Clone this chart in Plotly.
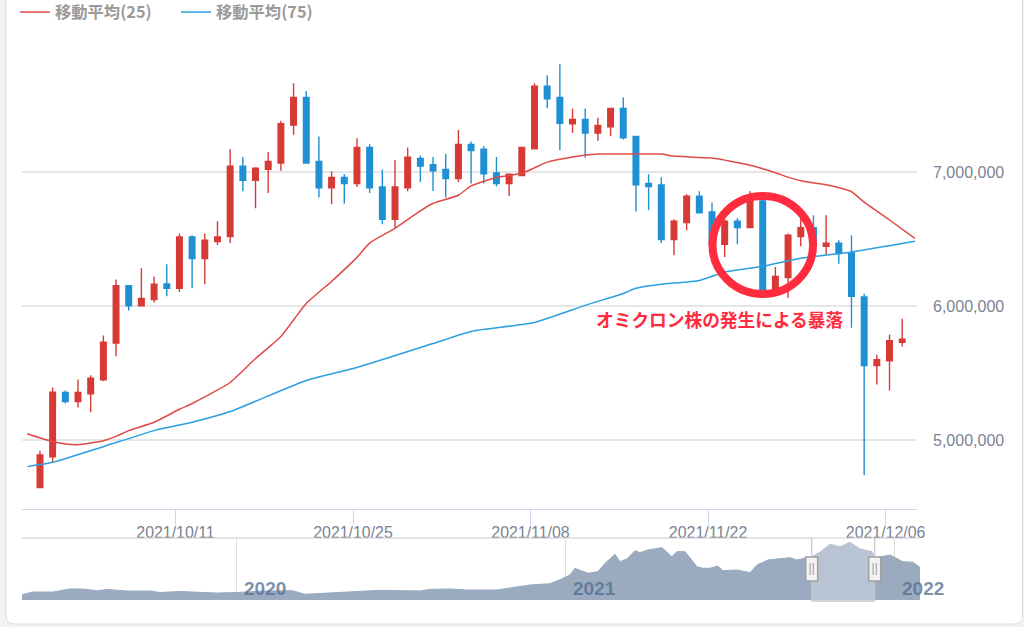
import numpy as np
import pandas as pd
import plotly.graph_objects as go

# daily candles, in thousand yen
dates = pd.date_range("2021-09-30", periods=69, freq="D")
opens = [4645, 4876, 5355, 5288, 5345, 5450, 5724, 6153, 6002, 6050, 6165, 6133, 6516, 6355, 6482, 6519, 7045,
         6940, 7022, 7069, 7351, 7558, 7080, 6883, 6960, 6915, 7185, 6890, 6649, 6883, 7102, 7055, 7020, 6953,
         7207, 7172, 6995, 6915, 6975, 7174, 7641, 7558, 7361, 7394, 7292, 7339, 7476, 7267, 6915, 6905, 6497,
         6624, 6821, 6703, 6462, 6634, 6586, 6785, 6110, 6213, 6519, 6586, 6447, 6469, 6397, 6068, 5557, 5592, 5731]
highs = [4921, 5392, 5370, 5452, 5484, 5781, 6198, 6155, 6282, 6222, 6312, 6542, 6529, 6542, 6634, 7172, 7114,
         7037, 7150, 7384, 7663, 7606, 7267, 7007, 6985, 7254, 7209, 7020, 7090, 7185, 7125, 7114, 7137, 7314,
         7229, 7194, 7114, 6985, 7187, 7663, 7723, 7805, 7476, 7476, 7406, 7478, 7558, 7269, 6985, 6963, 6649,
         6835, 6858, 6773, 6649, 6656, 6858, 6798, 6292, 6542, 6693, 6678, 6678, 6492, 6529, 6093, 5637, 5789, 5906]
lows = [4645, 4834, 5273, 5243, 5208, 5441, 5626, 5968, 6002, 6028, 6073, 6105, 6133, 6163, 6456, 6471, 6858,
        6731, 6845, 7010, 7279, 7067, 6811, 6761, 6766, 6890, 6845, 6611, 6586, 6858, 6927, 6860, 6811, 6927,
        6915, 6915, 6893, 6823, 6974, 7174, 7478, 7164, 7292, 7107, 7234, 7269, 7244, 6706, 6718, 6471, 6379,
        6566, 6696, 6417, 6367, 6462, 6586, 6110, 6110, 6063, 6447, 6447, 6385, 6317, 5839, 4737, 5415, 5370, 5699]
closes = [4889, 5357, 5288, 5355, 5462, 5731, 6153, 6003, 6058, 6163, 6133, 6516, 6355, 6492, 6516, 7045, 6940,
          7030, 7080, 7361, 7558, 7069, 6883, 6960, 6915, 7185, 6883, 6649, 6890, 7112, 7045, 7010, 6953, 7207,
          7162, 6987, 6915, 6985, 7185, 7641, 7548, 7364, 7394, 7292, 7349, 7476, 7256, 6905, 6893, 6497, 6634,
          6821, 6696, 6462, 6634, 6586, 6785, 6112, 6222, 6529, 6586, 6447, 6469, 6392, 6073, 5557, 5600, 5742, 5754]

# moving averages, read at some candle positions (days after 2021-09-30)
ma25_days = [-1, 1, 2, 3, 5, 6, 7, 9, 11, 12, 15, 17, 19, 21, 23, 25, 26, 28, 30, 31, 33, 34, 36, 38, 39, 40, 42,
             44, 46, 49, 50, 53, 56, 57, 58, 59, 60, 62, 64, 65, 67, 69]
ma25_vals = [5048, 4989, 4971, 4966, 4996, 5028, 5071, 5133, 5230, 5273, 5430, 5609, 5774, 6020, 6185, 6364, 6471,
             6581, 6711, 6768, 6828, 6898, 6960, 6992, 7032, 7075, 7114, 7135, 7135, 7135, 7120, 7105, 7052, 7026,
             6996, 6963, 6936, 6906, 6854, 6776, 6643, 6506]
ma75_days = [-1, 1, 5, 9, 12, 15, 21, 25, 31, 34, 39, 43, 46, 47, 49, 52, 54, 57, 60, 64, 69]
ma75_vals = [4802, 4834, 4951, 5071, 5133, 5213, 5445, 5542, 5721, 5811, 5878, 6006, 6095, 6133, 6163, 6192, 6254,
             6297, 6357, 6404, 6484]

# navigator series, decimal year / million yen
nav_years = [2019.347, 2019.380, 2019.441, 2019.492, 2019.532, 2019.574, 2019.608, 2019.666, 2019.736, 2019.766,
             2019.827, 2019.888, 2019.939, 2020.000, 2020.079, 2020.170, 2020.207, 2020.252, 2020.343, 2020.435,
             2020.556, 2020.587, 2020.647, 2020.699, 2020.790, 2020.839, 2020.891, 2020.951, 2020.982, 2021.012,
             2021.027, 2021.067, 2021.097, 2021.119, 2021.149, 2021.164, 2021.185, 2021.210, 2021.225, 2021.249,
             2021.292, 2021.322, 2021.337, 2021.362, 2021.398, 2021.416, 2021.438, 2021.462, 2021.477, 2021.520,
             2021.559, 2021.581, 2021.614, 2021.681, 2021.702, 2021.748, 2021.772, 2021.802, 2021.833, 2021.863,
             2021.894, 2021.930, 2021.939, 2021.985, 2022.024, 2022.055, 2022.076]
nav_vals = [0.716, 1.081, 1.081, 1.486, 1.486, 1.257, 1.419, 1.216, 1.216, 1.014, 1.149, 1.014, 0.946, 1.014, 1.216,
            1.257, 0.770, 0.878, 1.122, 1.311, 1.216, 1.446, 1.486, 1.351, 1.351, 1.716, 2.027, 2.203, 2.743, 3.378,
            4.284, 3.608, 3.824, 4.959, 6.176, 5.176, 5.541, 6.662, 6.400, 6.757, 7.068, 5.851, 6.527, 6.527, 4.500,
            4.284, 4.284, 4.595, 3.959, 4.054, 3.689, 4.730, 5.405, 5.716, 5.405, 5.851, 6.446, 7.527, 7.203, 7.797,
            6.892, 6.527, 5.676, 6.081, 5.176, 5.095, 4.419]
nav_ticks = [2020, 2021, 2022]

tick_labels = ["2021/10/11", "2021/10/25", "2021/11/08", "2021/11/22", "2021/12/06"]
y_ticks = [5000000, 6000000, 7000000]

W, H = 1024, 627
RED, BLUE, MARK = "#d73a35", "#1f90d3", "#ff2b3e"
GREY = "#7b8394"


def px(x):
    return x / W


def py(y):
    return 1 - y / H


def to_dates(days):
    return dates[0] + pd.to_timedelta(days, unit="D")


fig = go.Figure()
fig.add_trace(go.Candlestick(
    x=dates, open=np.array(opens) * 1000, high=np.array(highs) * 1000,
    low=np.array(lows) * 1000, close=np.array(closes) * 1000,
    increasing=dict(line=dict(color=RED, width=1.4), fillcolor=RED),
    decreasing=dict(line=dict(color=BLUE, width=1.4), fillcolor=BLUE),
    whiskerwidth=0, showlegend=False,
))
fig.add_trace(go.Scatter(x=to_dates(ma25_days), y=np.array(ma25_vals) * 1000, mode="lines", name="移動平均(25)",
                         line=dict(color="#df4a48", width=1.5, shape="spline", smoothing=0.5)))
fig.add_trace(go.Scatter(x=to_dates(ma75_days), y=np.array(ma75_vals) * 1000, mode="lines", name="移動平均(75)",
                         line=dict(color="#2b9fe0", width=1.5, shape="spline", smoothing=0.5)))
fig.add_trace(go.Scatter(x=nav_years, y=np.array(nav_vals) * 1e6, mode="lines", xaxis="x2", yaxis="y2",
                         fill="tozeroy", fillcolor="#9aabc0", line=dict(color="#9aabc0", width=1), showlegend=False))

# ticks sit a little left of the candle of that day
tick_pos = pd.to_datetime(["2021-10-11", "2021-10-25", "2021-11-08", "2021-11-22", "2021-12-06"]) - pd.Timedelta(hours=7.5)

fig.update_layout(
    width=W, height=H, margin=dict(l=0, r=0, t=0, b=0, autoexpand=False),
    paper_bgcolor="#f1f2f4", plot_bgcolor="rgba(0,0,0,0)",
    font=dict(family="Liberation Sans, Noto Sans CJK JP", color=GREY),
    boxgap=0.37,
    legend=dict(orientation="h", x=px(15), xanchor="left", y=1.008, yanchor="top", entrywidth=116, entrywidthmode="pixels",
                font=dict(family="Noto Sans CJK JP", size=16.3, color="#9a9a9a", weight="bold"), bgcolor="rgba(0,0,0,0)"),
    xaxis=dict(type="date", domain=[px(22), px(917)], range=["2021-09-28 14:00", "2021-12-08 04:00"],
               rangeslider=dict(visible=False), tickvals=tick_pos, ticktext=tick_labels, ticks="outside", ticklen=15,
               tickwidth=1, tickcolor="#ccd6eb", showgrid=False, showline=True, linecolor="#ccd6eb", linewidth=1,
               ticklabelstandoff=-6, tickfont=dict(size=15.9, color=GREY), anchor="y"),
    yaxis=dict(domain=[py(508.7), py(50)], range=[4488000, 7912000], side="right", tickvals=y_ticks,
               tickformat=",d", gridcolor="#e6e6e6", gridwidth=1.5, zeroline=False, showline=False, ticks="",
               ticklabelstandoff=15, tickfont=dict(size=16, color=GREY), anchor="x"),
    xaxis2=dict(domain=[px(22), px(920)], range=[2019.347, 2022.076], tickvals=nav_ticks, showticklabels=False,
                ticks="", showgrid=True, gridcolor="#dddddd", gridwidth=1, zeroline=False, anchor="y2"),
    yaxis2=dict(domain=[py(600), py(538.5)], range=[0, 8300000], showticklabels=False, showgrid=False, ticks="",
                zeroline=False, anchor="x2"),
)

shapes = [
    # card behind everything
    dict(type="path", layer="below", xref="paper", yref="paper", fillcolor="white", line=dict(color="#dcdcdc", width=1),
         path=f"M {px(6)} {py(-10)} L {px(1022.5)} {py(-10)} L {px(1022.5)} {py(616)} "
              f"Q {px(1022.5)} {py(624)} {px(1014)} {py(624)} L {px(15)} {py(624)} "
              f"Q {px(6)} {py(624)} {px(6)} {py(616)} Z"),
    # navigator top line
    dict(type="line", xref="paper", yref="paper", x0=px(22), x1=px(920), y0=py(538), y1=py(538),
         line=dict(color="#c9c9c9", width=1.2)),
    # selected window
    dict(type="rect", xref="paper", yref="paper", x0=px(811.7), x1=px(874.7), y0=py(601), y1=py(538.5),
         fillcolor="rgba(255,255,255,0.3)", line=dict(width=0)),
    dict(type="line", xref="paper", yref="paper", x0=px(811.7), x1=px(874.7), y0=py(601), y1=py(601),
         line=dict(color="#c6c6c6", width=1.5)),
]
for cx in (811.7, 874.7):
    shapes.append(dict(type="line", xref="paper", yref="paper", x0=px(cx), x1=px(cx), y0=py(601), y1=py(538),
                       line=dict(color="#c6c6c6", width=1.2)))
    shapes.append(dict(type="rect", xref="paper", yref="paper", x0=px(cx - 6), x1=px(cx + 6), y0=py(581), y1=py(557),
                       fillcolor="#f2f2f2", line=dict(color="#a0a0a0", width=1.5)))
    for dx in (-1.6, 1.6):
        shapes.append(dict(type="line", xref="paper", yref="paper", x0=px(cx + dx), x1=px(cx + dx), y0=py(575),
                           y1=py(563), line=dict(color="#9a9a9a", width=1)))
# the hand drawn ring
shapes.append(dict(type="circle", xref="paper", yref="paper", x0=px(712.5), x1=px(813), y0=py(294), y1=py(196),
                   line=dict(color=MARK, width=8)))
fig.update_layout(shapes=shapes)

fig.add_annotation(xref="paper", yref="paper", x=px(719.5), y=py(319), text="<b>オミクロン株の発生による暴落</b>", showarrow=False,
                   xanchor="center", yanchor="middle", font=dict(family="Noto Sans CJK JP", size=17.7, color=MARK))
for year in nav_ticks:
    fig.add_annotation(xref="x2", yref="paper", x=year, y=py(588), text=f"<b>{year}</b>", showarrow=False,
                       xanchor="left", yanchor="middle", xshift=5, font=dict(size=19, color="rgba(80,110,145,0.75)"))

# page margin off so the figure fills the window
fig.write_html("out.html", config={"displayModeBar": False},
               post_script="document.body.style.margin='0';document.body.style.overflow='hidden';")
